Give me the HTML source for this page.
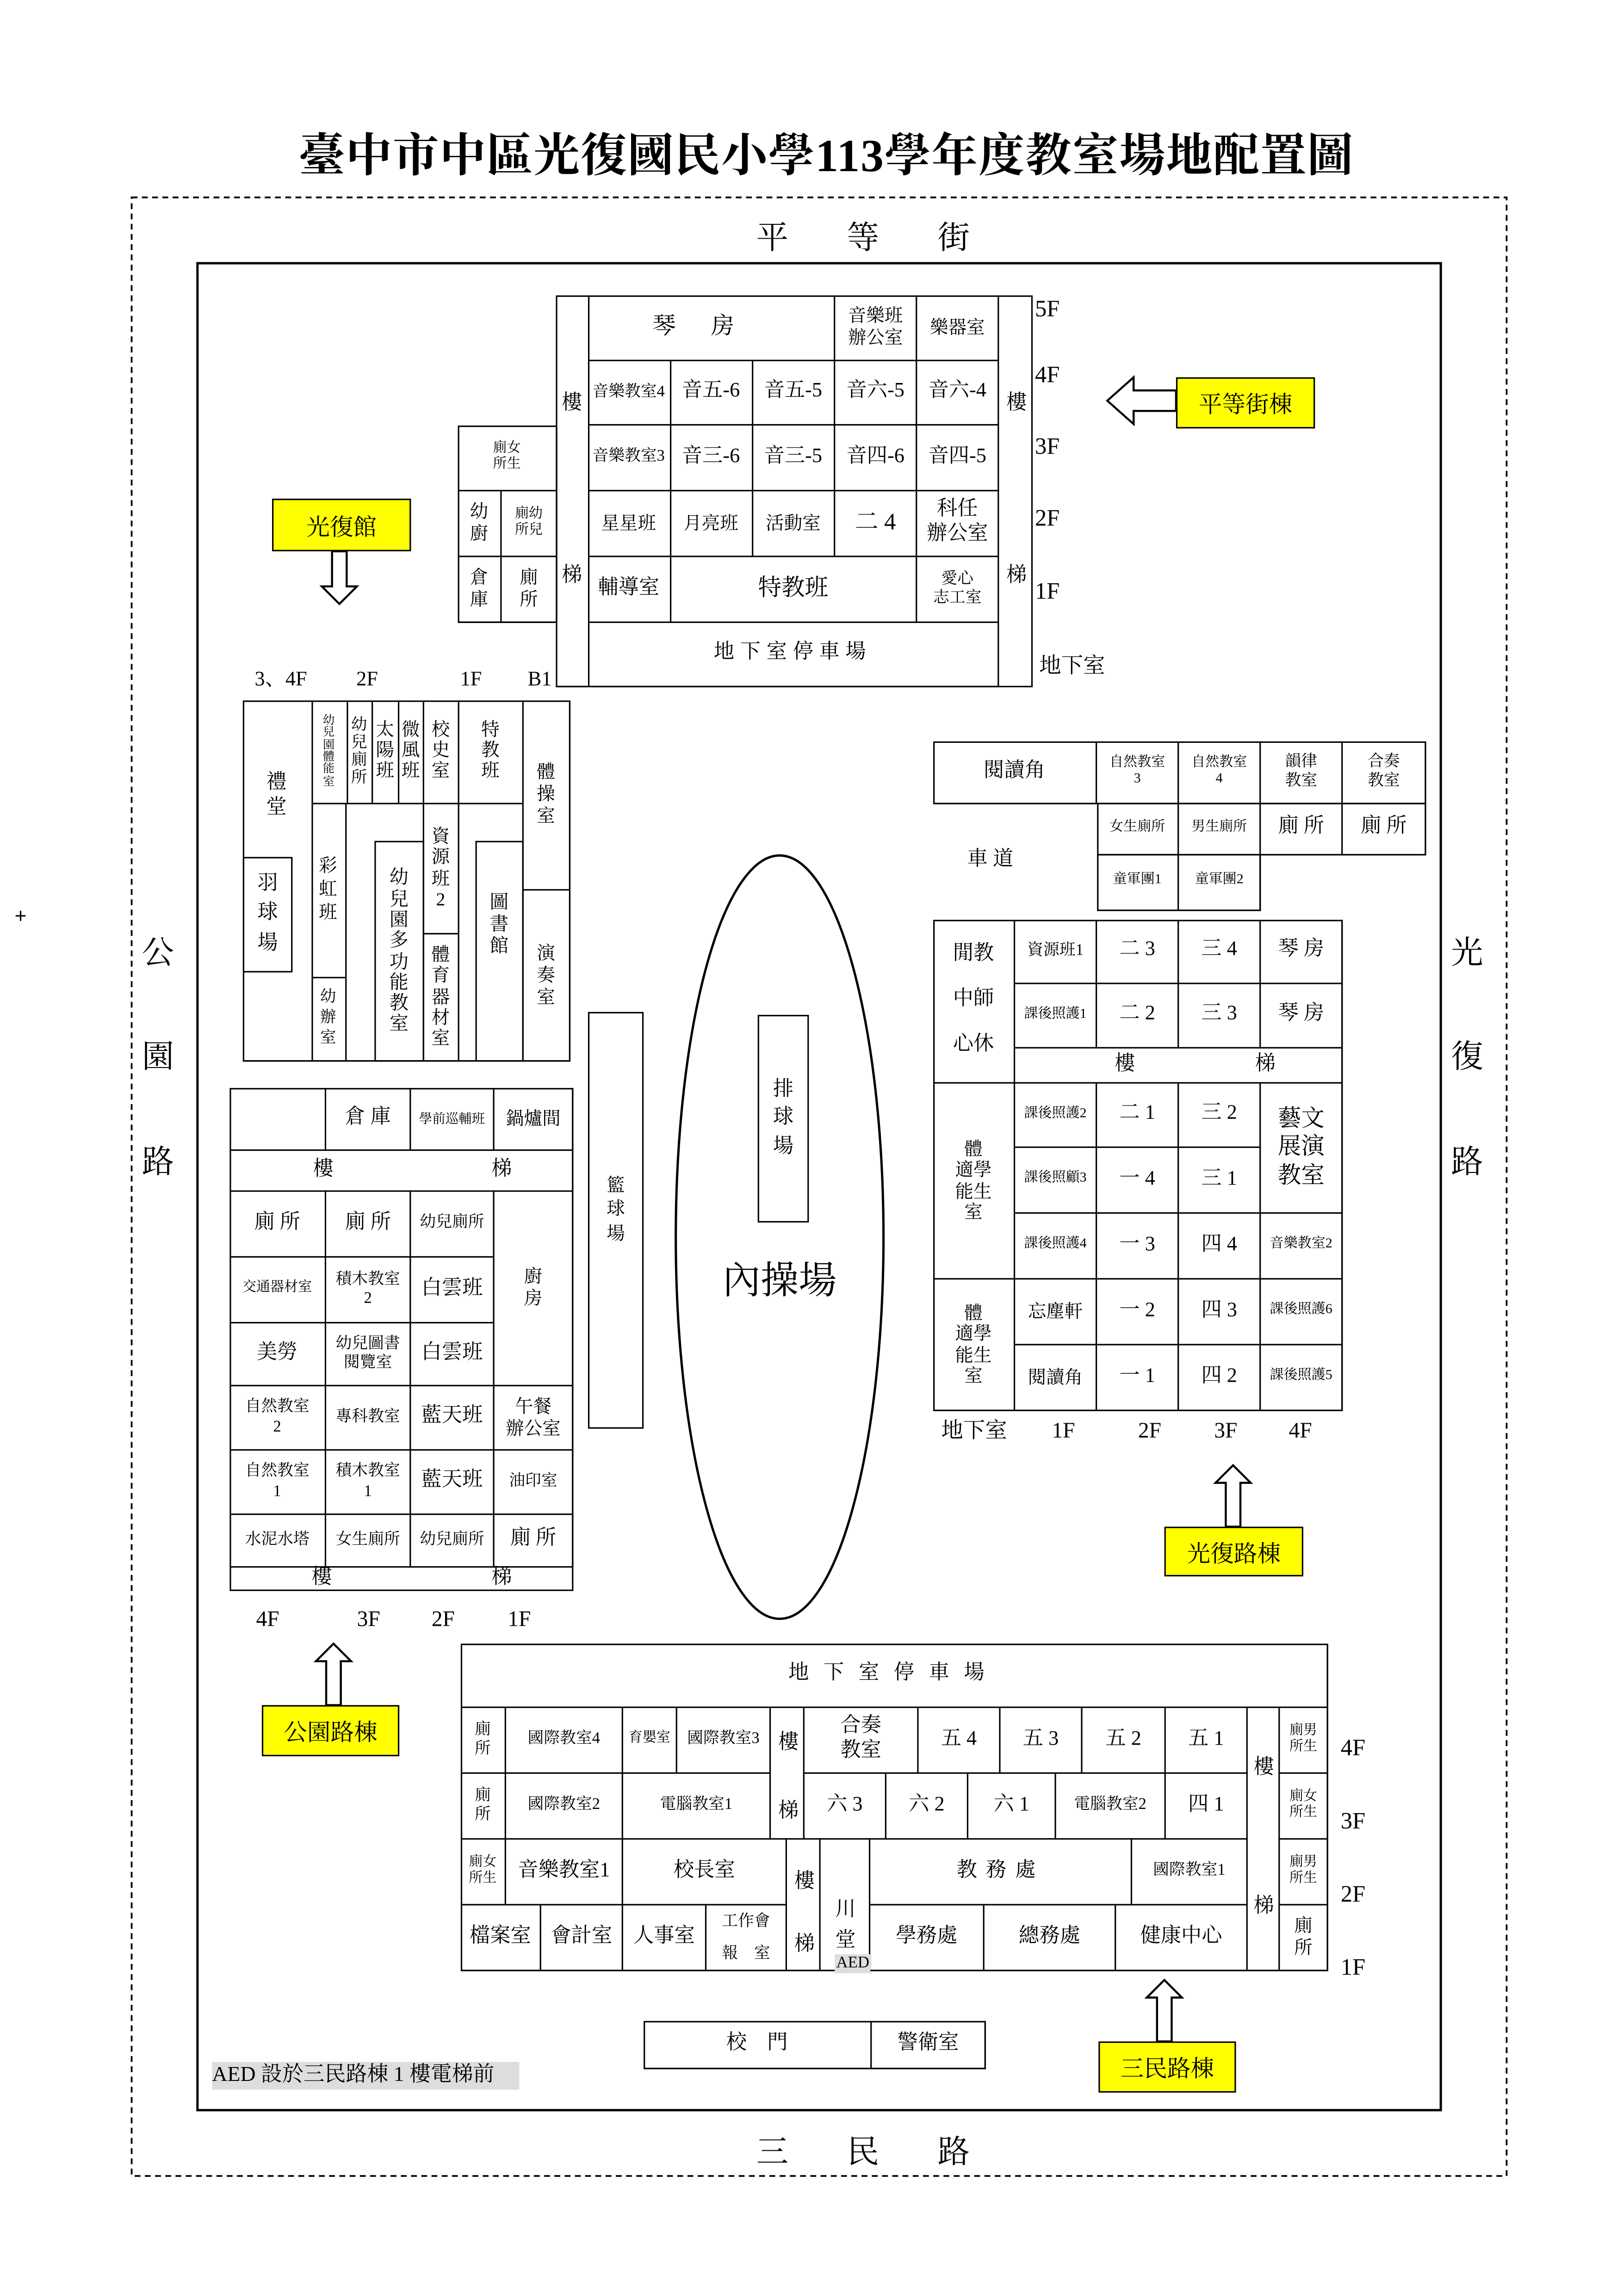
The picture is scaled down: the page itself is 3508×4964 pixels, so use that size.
<!DOCTYPE html>
<html><head><meta charset="utf-8">
<style>
html,body{margin:0;padding:0;background:#fff;width:3508px;height:4961px;overflow:hidden}
#c{position:absolute;left:0;top:0;width:1110px;height:1570px;transform:scale(3.1616);transform-origin:0 0;font-family:"Liberation Serif","Noto Serif CJK SC",serif;color:#000}
.f{position:absolute;box-sizing:border-box;border:1.6px solid #000}
.b{position:absolute;box-sizing:border-box;border-right:1.6px solid #000;border-bottom:1.6px solid #000;display:flex;align-items:center;justify-content:center;text-align:center;line-height:1.2;font-size:14px}
.t{position:absolute;transform:translate(-50%,-50%);white-space:nowrap;line-height:1.2;text-align:center}
.y{position:absolute;box-sizing:border-box;border:1.6px solid #000;background:#ffff00;display:flex;align-items:center;justify-content:center;font-size:16px}
.s{font-size:11px}.xs{font-size:9.5px}.m{font-size:12.5px}.l{font-size:16px}
</style></head><body><div id="c">
<svg width="1110" height="1570" style="position:absolute;left:0;top:0">
<rect x="90" y="135" width="940" height="1353" fill="none" stroke="#000" stroke-width="1.2" stroke-dasharray="4,3"/>
<rect x="135" y="180" width="850" height="1263" fill="none" stroke="#000" stroke-width="1.6"/>
<ellipse cx="533" cy="846" rx="71" ry="261" fill="none" stroke="#000" stroke-width="1.6"/>
<g fill="#fff" stroke="#000" stroke-width="1.4">
<polygon points="757,274 775,258 775,267 804,267 804,281 775,281 775,290"/>
<polygon points="232,413 220,401 227,401 227,377 237,377 237,401 244,401"/>
<polygon points="228,1124 216,1136 223,1136 223,1166 233,1166 233,1136 240,1136"/>
<polygon points="843,1002 831,1014 838,1014 838,1044 848,1044 848,1014 855,1014"/>
<polygon points="796,1354 784,1366 791,1366 791,1396 801,1396 801,1366 808,1366"/>
</g>
<text x="10" y="631" font-size="14" font-family="Liberation Sans">+</text>
</svg>
<div class="t" style="left:565px;top:107px;font-size:31.5px;font-weight:bold;letter-spacing:0.6px">臺中市中區光復國民小學113學年度教室場地配置圖</div>
<div class="t" style="left:528px;top:163px;font-size:22px">平</div><div class="t" style="left:590px;top:163px;font-size:22px">等</div><div class="t" style="left:652px;top:163px;font-size:22px">街</div>
<div class="t" style="left:528px;top:1472px;font-size:22px">三</div><div class="t" style="left:590px;top:1472px;font-size:22px">民</div><div class="t" style="left:652px;top:1472px;font-size:22px">路</div>
<div class="t" style="left:108px;top:652px;font-size:22px">公</div><div class="t" style="left:108px;top:723px;font-size:22px">園</div><div class="t" style="left:108px;top:795px;font-size:22px">路</div>
<div class="t" style="left:1003px;top:652px;font-size:22px">光</div><div class="t" style="left:1003px;top:723px;font-size:22px">復</div><div class="t" style="left:1003px;top:795px;font-size:22px">路</div>

<!-- top building -->
<div class="f" style="left:380px;top:202px;width:326px;height:268px"></div>
<div class="b" style="left:380px;top:202px;width:22.5px;height:268px"></div>
<div class="t" style="left:391px;top:277px;font-size:14px">樓</div><div class="t" style="left:391px;top:395px;font-size:14px">梯</div>
<div class="t" style="left:695px;top:277px;font-size:14px">樓</div><div class="t" style="left:695px;top:395px;font-size:14px">梯</div>
<div class="b l" style="left:402px;top:202px;width:169px;height:45px;letter-spacing:24px">琴房</div>
<div class="b m" style="left:571px;top:202px;width:56px;height:45px">音樂班<br>辦公室</div>
<div class="b m" style="left:627px;top:202px;width:56px;height:45px">樂器室</div>
<div class="b s" style="left:402px;top:247px;width:56.5px;height:44px">音樂教室4</div>
<div class="b" style="left:458.5px;top:247px;width:56px;height:44px">音五-6</div>
<div class="b" style="left:514.5px;top:247px;width:56.5px;height:44px">音五-5</div>
<div class="b" style="left:571px;top:247px;width:56px;height:44px">音六-5</div>
<div class="b" style="left:627px;top:247px;width:56px;height:44px">音六-4</div>
<div class="b s" style="left:402px;top:291px;width:56.5px;height:45px">音樂教室3</div>
<div class="b" style="left:458.5px;top:291px;width:56px;height:45px">音三-6</div>
<div class="b" style="left:514.5px;top:291px;width:56.5px;height:45px">音三-5</div>
<div class="b" style="left:571px;top:291px;width:56px;height:45px">音四-6</div>
<div class="b" style="left:627px;top:291px;width:56px;height:45px">音四-5</div>
<div class="b m" style="left:402px;top:336px;width:56.5px;height:45px">星星班</div>
<div class="b m" style="left:458.5px;top:336px;width:56px;height:45px">月亮班</div>
<div class="b m" style="left:514.5px;top:336px;width:56.5px;height:45px">活動室</div>
<div class="b l" style="left:571px;top:336px;width:56px;height:45px">二 4</div>
<div class="b" style="left:627px;top:336px;width:56px;height:45px">科任<br>辦公室</div>
<div class="b" style="left:402px;top:381px;width:56.5px;height:45px">輔導室</div>
<div class="b l" style="left:458.5px;top:381px;width:168.5px;height:45px">特教班</div>
<div class="b s" style="left:627px;top:381px;width:56px;height:45px">愛心<br>志工室</div>
<div class="b" style="left:402px;top:426px;width:281px;height:44px;letter-spacing:4px">地下室停車場</div>
<div class="t l" style="left:716px;top:212px">5F</div><div class="t l" style="left:716px;top:257px">4F</div><div class="t l" style="left:716px;top:306px">3F</div><div class="t l" style="left:716px;top:355px">2F</div><div class="t l" style="left:716px;top:405px">1F</div><div class="t" style="left:733px;top:456px;font-size:15px">地下室</div>
<!-- small left -->
<div class="f" style="left:313px;top:291px;width:68px;height:135px"></div>
<div class="b xs" style="left:313px;top:291px;width:68px;height:45px">廁女<br>所生</div>
<div class="b m" style="left:313px;top:336px;width:30px;height:45px">幼<br>廚</div>
<div class="b xs" style="left:343px;top:336px;width:38px;height:45px">廁幼<br>所兒</div>
<div class="b m" style="left:313px;top:381px;width:30px;height:45px">倉<br>庫</div>
<div class="b m" style="left:343px;top:381px;width:38px;height:45px">廁<br>所</div>
<div class="y" style="left:804px;top:258px;width:95px;height:35px">平等街棟</div>
<div class="y" style="left:186px;top:341px;width:95px;height:36px">光復館</div>

<!-- left building 光復館 -->
<div class="t" style="left:192px;top:466px;font-size:14px">3、4F</div><div class="t" style="left:251px;top:466px;font-size:14px">2F</div><div class="t" style="left:322px;top:466px;font-size:14px">1F</div><div class="t" style="left:369px;top:466px;font-size:14px">B1</div>
<div class="f" style="left:166px;top:479px;width:224px;height:247px"></div>
<div class="b" style="left:166px;top:479px;width:47.5px;height:247px"></div>
<div class="t" style="left:189px;top:545px;font-size:14px">禮<br>堂</div>
<div class="f" style="left:166px;top:586px;width:34px;height:79px;display:flex;align-items:center;justify-content:center;font-size:14px;line-height:1.45">羽<br>球<br>場</div>
<div class="b" style="left:213px;top:479px;width:24.5px;height:71px;font-size:8px;line-height:1.05">幼<br>兒<br>園<br>體<br>能<br>室</div>
<div class="b s" style="left:237.5px;top:479px;width:17px;height:71px;line-height:1.1">幼<br>兒<br>廁<br>所</div>
<div class="b m" style="left:254.5px;top:479px;width:18.5px;height:71px;line-height:1.1">太<br>陽<br>班</div>
<div class="b m" style="left:273px;top:479px;width:16.5px;height:71px;line-height:1.1">微<br>風<br>班</div>
<div class="b m" style="left:289.5px;top:479px;width:24.5px;height:71px;line-height:1.1">校<br>史<br>室</div>
<div class="b m" style="left:314px;top:479px;width:43.5px;height:71px;line-height:1.1">特<br>教<br>班</div>
<div class="b m" style="left:357.5px;top:479px;width:32.5px;height:130px;line-height:1.2">體<br>操<br>室</div>
<div class="b m" style="left:213px;top:550px;width:23.5px;height:118.5px;line-height:1.25">彩<br>虹<br>班</div>
<div class="b s" style="left:213px;top:668.5px;width:23.5px;height:57.5px;line-height:1.25">幼<br>辦<br>室</div>
<div class="b" style="left:236.5px;top:550px;width:53px;height:176px"></div>
<div class="f" style="left:256px;top:575px;width:33.5px;height:151px;display:flex;align-items:center;justify-content:center;font-size:13px;line-height:1.1;text-align:center">幼<br>兒<br>園<br>多<br>功<br>能<br>教<br>室</div>
<div class="b m" style="left:289.5px;top:550px;width:24.5px;height:88.5px;line-height:1.15">資<br>源<br>班<br>2</div>
<div class="b m" style="left:289.5px;top:638.5px;width:24.5px;height:87.5px;line-height:1.15">體<br>育<br>器<br>材<br>室</div>
<div class="b" style="left:314px;top:550px;width:43.5px;height:176px"></div>
<div class="f" style="left:325px;top:575px;width:32.5px;height:151px;font-size:13px;line-height:1.15;text-align:center;padding-top:34px">圖<br>書<br>館</div>
<div class="b m" style="left:357.5px;top:609px;width:32.5px;height:117px;line-height:1.2">演<br>奏<br>室</div>

<!-- basketball -->
<div class="f" style="left:402px;top:692px;width:38px;height:285px"></div>
<div class="t m" style="left:421px;top:827px;line-height:1.3">籃<br>球<br>場</div>
<div class="f" style="left:518px;top:694px;width:35px;height:142px;display:flex;align-items:center;justify-content:center;font-size:14px;line-height:1.4">排<br>球<br>場</div>
<div class="t" style="left:533px;top:876px;font-size:26px">內操場</div>

<!-- 公園路棟 -->
<div class="f" style="left:157px;top:744px;width:235px;height:344px"></div>
<div class="b" style="left:157px;top:744px;width:66px;height:43px"></div>
<div class="b" style="left:223px;top:744px;width:58px;height:43px">倉 庫</div>
<div class="b" style="left:281px;top:744px;width:57px;height:43px;font-size:9px">學前巡輔班</div>
<div class="b m" style="left:338px;top:744px;width:54px;height:43px">鍋爐間</div>
<div class="b" style="left:157px;top:787px;width:235px;height:28px"></div>
<div class="t" style="left:221px;top:801px;font-size:14px">樓</div><div class="t" style="left:343px;top:801px;font-size:14px">梯</div>
<div class="b" style="left:157px;top:815px;width:66px;height:45px">廁 所</div>
<div class="b" style="left:223px;top:815px;width:58px;height:45px">廁 所</div>
<div class="b s" style="left:281px;top:815px;width:57px;height:45px">幼兒廁所</div>
<div class="b m" style="left:338px;top:815px;width:54px;height:133px">廚<br>房</div>
<div class="b xs" style="left:157px;top:860px;width:66px;height:45px">交通器材室</div>
<div class="b s" style="left:223px;top:860px;width:58px;height:45px">積木教室<br>2</div>
<div class="b" style="left:281px;top:860px;width:57px;height:45px">白雲班</div>
<div class="b" style="left:157px;top:905px;width:66px;height:43px">美勞</div>
<div class="b s" style="left:223px;top:905px;width:58px;height:43px">幼兒圖書<br>閱覽室</div>
<div class="b" style="left:281px;top:905px;width:57px;height:43px">白雲班</div>
<div class="b s" style="left:157px;top:948px;width:66px;height:44px">自然教室<br>2</div>
<div class="b s" style="left:223px;top:948px;width:58px;height:44px">專科教室</div>
<div class="b" style="left:281px;top:948px;width:57px;height:44px">藍天班</div>
<div class="b m" style="left:338px;top:948px;width:54px;height:44px">午餐<br>辦公室</div>
<div class="b s" style="left:157px;top:992px;width:66px;height:44px">自然教室<br>1</div>
<div class="b s" style="left:223px;top:992px;width:58px;height:44px">積木教室<br>1</div>
<div class="b" style="left:281px;top:992px;width:57px;height:44px">藍天班</div>
<div class="b s" style="left:338px;top:992px;width:54px;height:44px">油印室</div>
<div class="b s" style="left:157px;top:1036px;width:66px;height:36px">水泥水塔</div>
<div class="b s" style="left:223px;top:1036px;width:58px;height:36px">女生廁所</div>
<div class="b s" style="left:281px;top:1036px;width:57px;height:36px">幼兒廁所</div>
<div class="b" style="left:338px;top:1036px;width:54px;height:36px">廁 所</div>
<div class="t" style="left:220px;top:1080px;font-size:14px">樓</div><div class="t" style="left:343px;top:1080px;font-size:14px">梯</div>
<div class="t" style="left:183px;top:1108px;font-size:15px">4F</div><div class="t" style="left:252px;top:1108px;font-size:15px">3F</div><div class="t" style="left:303px;top:1108px;font-size:15px">2F</div><div class="t" style="left:355px;top:1108px;font-size:15px">1F</div>
<div class="y" style="left:179px;top:1166px;width:94px;height:35px">公園路棟</div>

<!-- 光復路棟 -->
<div class="f" style="left:638px;top:507px;width:337px;height:43px"></div>
<div class="b" style="left:638px;top:507px;width:112px;height:43px">閱讀角</div>
<div class="b xs" style="left:750px;top:507px;width:56px;height:43px">自然教室<br>3</div>
<div class="b xs" style="left:806px;top:507px;width:56px;height:43px">自然教室<br>4</div>
<div class="b s" style="left:862px;top:507px;width:56px;height:43px">韻律<br>教室</div>
<div class="b s" style="left:918px;top:507px;width:57px;height:43px">合奏<br>教室</div>
<div class="t" style="left:677px;top:589px;font-size:14px">車 道</div>
<div class="f" style="left:750px;top:549px;width:225px;height:36px"></div>
<div class="b xs" style="left:750px;top:549px;width:56px;height:36px">女生廁所</div>
<div class="b xs" style="left:806px;top:549px;width:56px;height:36px">男生廁所</div>
<div class="b" style="left:862px;top:549px;width:56px;height:36px">廁 所</div>
<div class="b" style="left:918px;top:549px;width:57px;height:36px">廁 所</div>
<div class="f" style="left:750px;top:584px;width:112px;height:39px"></div>
<div class="b xs" style="left:750px;top:584px;width:56px;height:39px">童軍團1</div>
<div class="b xs" style="left:806px;top:584px;width:56px;height:39px">童軍團2</div>
<div class="f" style="left:638px;top:629px;width:280px;height:336px"></div>
<div class="b" style="left:638px;top:629px;width:56px;height:112px;line-height:2.2">閒教<br>中師<br>心休</div>
<div class="b s" style="left:694px;top:629px;width:56px;height:44px">資源班1</div>
<div class="b" style="left:750px;top:629px;width:56px;height:44px">二 3</div>
<div class="b" style="left:806px;top:629px;width:56px;height:44px">三 4</div>
<div class="b" style="left:862px;top:629px;width:56px;height:44px">琴 房</div>
<div class="b xs" style="left:694px;top:673px;width:56px;height:44px">課後照護1</div>
<div class="b" style="left:750px;top:673px;width:56px;height:44px">二 2</div>
<div class="b" style="left:806px;top:673px;width:56px;height:44px">三 3</div>
<div class="b" style="left:862px;top:673px;width:56px;height:44px">琴 房</div>
<div class="b" style="left:694px;top:717px;width:224px;height:24px"></div>
<div class="t" style="left:769px;top:729px;font-size:14px">樓</div><div class="t" style="left:865px;top:729px;font-size:14px">梯</div>
<div class="b m" style="left:638px;top:741px;width:56px;height:134px;line-height:1.15">體<br>適學<br>能生<br>室</div>
<div class="b xs" style="left:694px;top:741px;width:56px;height:44px">課後照護2</div>
<div class="b" style="left:750px;top:741px;width:56px;height:44px">二 1</div>
<div class="b" style="left:806px;top:741px;width:56px;height:44px">三 2</div>
<div class="b l" style="left:862px;top:741px;width:56px;height:89px">藝文<br>展演<br>教室</div>
<div class="b xs" style="left:694px;top:785px;width:56px;height:45px">課後照顧3</div>
<div class="b" style="left:750px;top:785px;width:56px;height:45px">一 4</div>
<div class="b" style="left:806px;top:785px;width:56px;height:45px">三 1</div>
<div class="b xs" style="left:694px;top:830px;width:56px;height:45px">課後照護4</div>
<div class="b" style="left:750px;top:830px;width:56px;height:45px">一 3</div>
<div class="b" style="left:806px;top:830px;width:56px;height:45px">四 4</div>
<div class="b xs" style="left:862px;top:830px;width:56px;height:45px">音樂教室2</div>
<div class="b m" style="left:638px;top:875px;width:56px;height:90px;line-height:1.15">體<br>適學<br>能生<br>室</div>
<div class="b m" style="left:694px;top:875px;width:56px;height:45px">忘塵軒</div>
<div class="b" style="left:750px;top:875px;width:56px;height:45px">一 2</div>
<div class="b" style="left:806px;top:875px;width:56px;height:45px">四 3</div>
<div class="b xs" style="left:862px;top:875px;width:56px;height:45px">課後照護6</div>
<div class="b m" style="left:694px;top:920px;width:56px;height:45px">閱讀角</div>
<div class="b" style="left:750px;top:920px;width:56px;height:45px">一 1</div>
<div class="b" style="left:806px;top:920px;width:56px;height:45px">四 2</div>
<div class="b xs" style="left:862px;top:920px;width:56px;height:45px">課後照護5</div>
<div class="t" style="left:666px;top:979px;font-size:15px">地下室</div><div class="t" style="left:727px;top:979px;font-size:15px">1F</div><div class="t" style="left:786px;top:979px;font-size:15px">2F</div><div class="t" style="left:838px;top:979px;font-size:15px">3F</div><div class="t" style="left:889px;top:979px;font-size:15px">4F</div>
<div class="y" style="left:796px;top:1044px;width:95px;height:34px">光復路棟</div>

<!-- 三民路棟 -->
<div class="f" style="left:315px;top:1124px;width:593px;height:224px"></div>
<div class="b" style="left:315px;top:1124px;width:593px;height:44px;letter-spacing:10px">地下室停車場</div>
<div class="b s" style="left:315px;top:1168px;width:31px;height:45px">廁<br>所</div>
<div class="b s" style="left:346px;top:1168px;width:80px;height:45px">國際教室4</div>
<div class="b xs" style="left:426px;top:1168px;width:37px;height:45px">育嬰室</div>
<div class="b s" style="left:463px;top:1168px;width:64px;height:45px">國際教室3</div>
<div class="b" style="left:527px;top:1168px;width:23px;height:90px"></div>
<div class="t" style="left:539px;top:1193px;font-size:14px">樓</div><div class="t" style="left:539px;top:1240px;font-size:14px">梯</div>
<div class="b" style="left:550px;top:1168px;width:78px;height:45px">合奏<br>教室</div>
<div class="b" style="left:628px;top:1168px;width:56px;height:45px">五 4</div>
<div class="b" style="left:684px;top:1168px;width:56px;height:45px">五 3</div>
<div class="b" style="left:740px;top:1168px;width:57px;height:45px">五 2</div>
<div class="b" style="left:797px;top:1168px;width:56px;height:45px">五 1</div>
<div class="b" style="left:853px;top:1168px;width:22px;height:180px"></div>
<div class="t" style="left:864px;top:1210px;font-size:14px">樓</div><div class="t" style="left:864px;top:1305px;font-size:14px">梯</div>
<div class="b xs" style="left:875px;top:1168px;width:33px;height:45px">廁男<br>所生</div>
<div class="b s" style="left:315px;top:1213px;width:31px;height:45px">廁<br>所</div>
<div class="b s" style="left:346px;top:1213px;width:80px;height:45px">國際教室2</div>
<div class="b s" style="left:426px;top:1213px;width:101px;height:45px">電腦教室1</div>
<div class="b" style="left:550px;top:1213px;width:56px;height:45px">六 3</div>
<div class="b" style="left:606px;top:1213px;width:56px;height:45px">六 2</div>
<div class="b" style="left:662px;top:1213px;width:60px;height:45px">六 1</div>
<div class="b s" style="left:722px;top:1213px;width:75px;height:45px">電腦教室2</div>
<div class="b" style="left:797px;top:1213px;width:56px;height:45px">四 1</div>
<div class="b xs" style="left:875px;top:1213px;width:33px;height:45px">廁女<br>所生</div>
<div class="b xs" style="left:315px;top:1258px;width:31px;height:45px">廁女<br>所生</div>
<div class="b" style="left:346px;top:1258px;width:80px;height:45px">音樂教室1</div>
<div class="b" style="left:426px;top:1258px;width:112px;height:45px">校長室</div>
<div class="b" style="left:538px;top:1258px;width:23px;height:90px"></div>
<div class="t" style="left:550px;top:1288px;font-size:14px">樓</div><div class="t" style="left:550px;top:1331px;font-size:14px">梯</div>
<div class="b" style="left:561px;top:1258px;width:34px;height:90px"></div>
<div class="t" style="left:578px;top:1317px;font-size:14px;line-height:1.5">川<br>堂</div>
<div class="t" style="left:583px;top:1343px;font-size:11px;background:#ddd;padding:0 1px">AED</div>
<div class="b" style="left:595px;top:1258px;width:179px;height:45px;letter-spacing:6px">教務處</div>
<div class="b s" style="left:774px;top:1258px;width:79px;height:45px">國際教室1</div>
<div class="b xs" style="left:875px;top:1258px;width:33px;height:45px">廁男<br>所生</div>
<div class="b" style="left:315px;top:1303px;width:55px;height:45px">檔案室</div>
<div class="b" style="left:370px;top:1303px;width:56px;height:45px">會計室</div>
<div class="b" style="left:426px;top:1303px;width:57px;height:45px">人事室</div>
<div class="b s" style="left:483px;top:1303px;width:55px;height:45px;line-height:2">工作會<br>報　室</div>
<div class="b" style="left:595px;top:1303px;width:78px;height:45px">學務處</div>
<div class="b" style="left:673px;top:1303px;width:90px;height:45px">總務處</div>
<div class="b" style="left:763px;top:1303px;width:90px;height:45px">健康中心</div>
<div class="b m" style="left:875px;top:1303px;width:33px;height:45px">廁<br>所</div>
<div class="t l" style="left:925px;top:1196px">4F</div><div class="t l" style="left:925px;top:1246px">3F</div><div class="t l" style="left:925px;top:1296px">2F</div><div class="t l" style="left:925px;top:1346px">1F</div>
<div class="f" style="left:440px;top:1382px;width:234px;height:33px"></div>
<div class="b" style="left:440px;top:1382px;width:156px;height:33px">校　門</div>
<div class="b" style="left:596px;top:1382px;width:78px;height:33px">警衛室</div>
<div class="y" style="left:751px;top:1396px;width:94px;height:35px">三民路棟</div>
<div style="position:absolute;left:145px;top:1410px;width:210px;height:19px;background:#ddd;font-size:14.5px;line-height:19px;white-space:nowrap">AED 設於三民路棟 1 樓電梯前</div>
</div></body></html>
